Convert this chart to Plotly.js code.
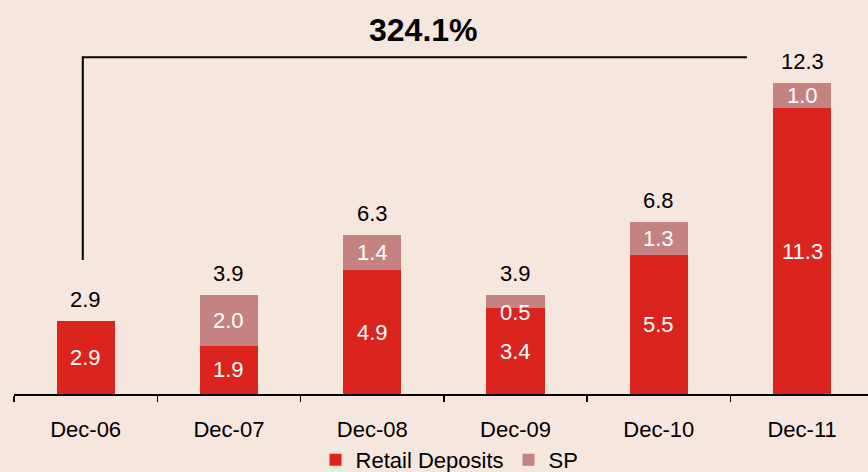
<!DOCTYPE html>
<html>
<head>
<meta charset="utf-8">
<script src="https://cdn.plot.ly/plotly-3.0.1.min.js"></script>
<style>html,body{margin:0;padding:0;background:#f5e6de;}#chart{width:868px;height:472px;}</style>
</head>
<body>
<div id="chart"></div>
<script>
const categories = ["Dec-06", "Dec-07", "Dec-08", "Dec-09", "Dec-10", "Dec-11"];
const retailDeposits = [2.9, 1.9, 4.9, 3.4, 5.5, 11.3];
const sp = [0.0, 2.0, 1.4, 0.5, 1.3, 1.0];
const totals = [2.9, 3.9, 6.3, 3.9, 6.8, 12.3];
const growthLabel = "324.1%";

const FONT = "Liberation Sans, Arial, sans-serif";
const RED = "#dc241f";
const PINK = "#c48282";

const traces = [
  {type: "bar", name: "Retail Deposits", x: categories, y: retailDeposits,
   marker: {color: RED}, hoverinfo: "none"},
  {type: "bar", name: "SP", x: categories, y: sp,
   marker: {color: PINK}, hoverinfo: "none"}
];

const annotations = [];
categories.forEach((c, i) => {
  annotations.push({x: c, y: totals[i], text: totals[i].toFixed(1), showarrow: false,
    yanchor: "bottom", yshift: 7, font: {family: FONT, size: 22, color: "#000"}});
  annotations.push({x: c, y: retailDeposits[i] / 2, text: retailDeposits[i].toFixed(1), showarrow: false,
    yanchor: "middle", font: {family: FONT, size: 22, color: "#fff"}});
  if (sp[i] > 0) {
    annotations.push({x: c, y: retailDeposits[i] + sp[i] / 2, text: sp[i].toFixed(1), showarrow: false,
      yanchor: "middle", yshift: sp[i] < 0.8 ? -11 : 0, font: {family: FONT, size: 22, color: "#fff"}});
  }
});
annotations.push({xref: "paper", yref: "paper", x: 0.48, y: 1.028, text: "<b>" + growthLabel + "</b>",
  showarrow: false, xanchor: "center", yanchor: "middle", font: {family: FONT, size: 32, color: "#000"}});

const layout = {
  width: 868, height: 472,
  paper_bgcolor: "#f5e6de", plot_bgcolor: "#f5e6de",
  margin: {l: 14, r: 0, t: 40, b: 78},
  barmode: "stack",
  bargap: 0.595,
  showlegend: true,
  legend: {orientation: "h", x: 0.51, xanchor: "center", yref: "container", y: 12/472, yanchor: "middle",
    font: {family: FONT, size: 22, color: "#000"}, bgcolor: "rgba(0,0,0,0)", itemwidth: 30, traceorder: "normal"},
  xaxis: {type: "category", range: [-0.5, 5.46], showline: true, linecolor: "#000", linewidth: 1.5,
    ticks: "outside", tickson: "boundaries", ticklen: 6, tickcolor: "#000", tickwidth: 1.5,
    showgrid: false, zeroline: false, ticklabelstandoff: 15,
    tickfont: {family: FONT, size: 22, color: "#000"}},
  yaxis: {range: [0, 14], visible: false, showgrid: false, zeroline: false},
  shapes: [
    {type: "path", xref: "x", yref: "y", path: "M -0.02,5.3 L -0.02,13.32 L 4.615,13.32",
      line: {color: "#000", width: 2}}
  ],
  annotations: annotations,
  font: {family: FONT}
};

Plotly.newPlot("chart", traces, layout, {displayModeBar: false, staticPlot: true});
</script>
</body>
</html>
